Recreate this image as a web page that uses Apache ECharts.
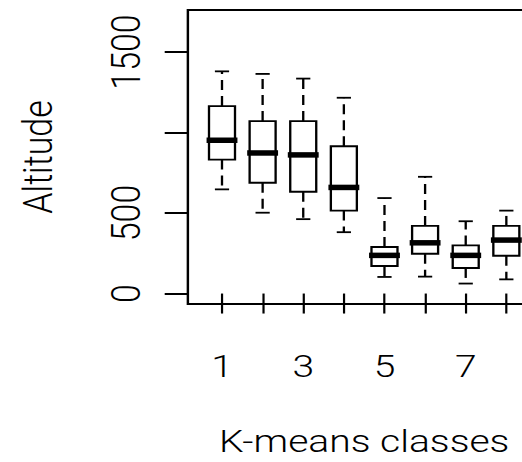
<!DOCTYPE html>
<html>
<head>
<meta charset="utf-8">
<script src="https://cdn.jsdelivr.net/npm/echarts@6/dist/echarts.min.js"></script>
<style>
  html, body { margin: 0; padding: 0; background: #fff; overflow: hidden; width: 522px; height: 462px; }
  /* the chart is laid out narrower and stretched horizontally; its right part runs past the edge */
  #chart { width: 460px; height: 462px; transform: scaleX(1.22); transform-origin: 0 0; }
</style>
</head>
<body>
<div id="chart"></div>
<script>
// K-means class boxplots of altitude
const classes = [1, 2, 3, 4, 5, 6, 7, 8];
const lowerWhisker = [647, 502, 462, 381, 103, 105, 62, 88];
const lowerQuartile = [832, 688, 632, 515, 171, 247, 159, 235];
const medians = [952, 873, 861, 659, 237, 315, 237, 332];
const upperQuartile = [1164, 1071, 1071, 915, 289, 420, 299, 420];
const upperWhisker = [1380, 1364, 1335, 1216, 593, 725, 449, 515];

const xTicks = [1, 2, 3, 4, 5, 6, 7, 8];
const xTickLabels = [1, 3, 5, 7];
const yTicks = [0, 500, 1000, 1500];
const yTickLabels = [0, 500, 1500];

const rows = classes.map((c, i) => [
  c, lowerWhisker[i], lowerQuartile[i], medians[i], upperQuartile[i], upperWhisker[i]
]);

const FONT = 'Roboto, Liberation Sans, Arial, sans-serif';
const WEIGHT = 300;
const INK = '#000';
const TEXT = '#000';

function renderBox(params, api) {
  const x = api.value(0);
  const pLow = api.coord([x, api.value(1)]);
  const pQ1 = api.coord([x, api.value(2)]);
  const pMed = api.coord([x, api.value(3)]);
  const pQ3 = api.coord([x, api.value(4)]);
  const pHigh = api.coord([x, api.value(5)]);
  const boxHalf = api.size([0.64, 0])[0] / 2;
  const capHalf = boxHalf / 2 + 0.5;
  const cx = pMed[0];
  const thin = { stroke: INK, lineWidth: 1.8, fill: null };
  const dashed = { stroke: INK, lineWidth: 1.9, lineDash: [10, 6], fill: null };
  return {
    type: 'group',
    children: [
      { type: 'line', shape: { x1: cx, y1: pQ3[1], x2: cx, y2: pHigh[1] }, style: dashed },
      { type: 'line', shape: { x1: cx, y1: pQ1[1], x2: cx, y2: pLow[1] }, style: dashed },
      { type: 'line', shape: { x1: cx - capHalf, y1: pHigh[1], x2: cx + capHalf, y2: pHigh[1] }, style: thin },
      { type: 'line', shape: { x1: cx - capHalf, y1: pLow[1], x2: cx + capHalf, y2: pLow[1] }, style: thin },
      { type: 'rect', shape: { x: cx - boxHalf, y: pQ3[1], width: boxHalf * 2, height: pQ1[1] - pQ3[1] },
        style: { stroke: INK, lineWidth: 1.9, fill: '#fff' } },
      { type: 'line', shape: { x1: cx - boxHalf - 2, y1: pMed[1], x2: cx + boxHalf + 2, y2: pMed[1] },
        style: { stroke: INK, lineWidth: 5.5 } }
    ]
  };
}

const chart = echarts.init(document.getElementById('chart'), null, { renderer: 'svg' });
chart.setOption({
  animation: false,
  backgroundColor: '#fff',
  grid: {
    show: true, left: 154, right: 17, top: 10, bottom: 156.5,
    borderColor: INK, borderWidth: 2, backgroundColor: 'transparent'
  },
  xAxis: {
    type: 'value', min: 0.16, max: 8.84,
    name: 'K-means classes', nameLocation: 'middle', nameGap: 121,
    nameTextStyle: { fontFamily: FONT, fontWeight: WEIGHT, fontSize: 32, color: TEXT },
    axisLine: { show: false },
    splitLine: { show: false },
    axisTick: { show: true, customValues: xTicks, length: 20, lineStyle: { color: INK, width: 1.8 } },
    axisLabel: { customValues: xTickLabels, margin: 46, fontFamily: FONT, fontWeight: WEIGHT, fontSize: 32, color: TEXT,
      formatter: v => String(v) }
  },
  yAxis: {
    type: 'value', min: -65, max: 1761,
    name: 'Altitude', nameLocation: 'middle', nameGap: 106, nameRotate: 90,
    nameTextStyle: { fontFamily: FONT, fontWeight: WEIGHT, fontSize: 34, color: TEXT },
    axisLine: { show: false },
    splitLine: { show: false },
    axisTick: { show: true, customValues: yTicks, length: 19, lineStyle: { color: INK, width: 2 } },
    axisLabel: { customValues: yTickLabels, rotate: 90, margin: 34, fontFamily: FONT, fontWeight: WEIGHT, fontSize: 34, color: TEXT,
      formatter: v => String(v) }
  },
  series: [{
    type: 'custom',
    renderItem: renderBox,
    encode: { x: 0, y: [1, 2, 3, 4, 5] },
    data: rows,
    clip: false
  }]
});
</script>
</body>
</html>
